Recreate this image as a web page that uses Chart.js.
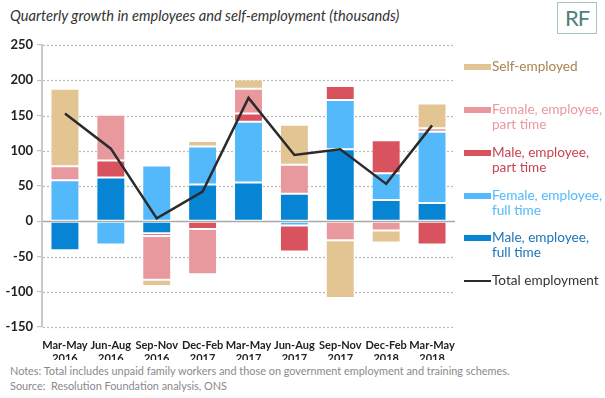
<!DOCTYPE html>
<html>
<head>
<meta charset="utf-8">
<script src="https://cdn.jsdelivr.net/npm/chart.js@4"></script>
<style>
  body { margin: 0; background: #fff; font-family: Lato, sans-serif; }
  #wrap { position: relative; width: 605px; height: 398px; overflow: hidden; }
  #box { position: absolute; left: 0; top: 0; width: 605px; height: 360px; }
  .title { position: absolute; left: 10px; top: 7px; font-size: 14.6px; font-style: italic; color: #333; }
  .logo { position: absolute; left: 557px; top: 2px; width: 38px; height: 30px; border: 1.5px solid #a9c4c1;
          color: #4f7f7b; font-size: 22px; line-height: 30px; text-align: center; letter-spacing: -1px; }
  .leg { position: absolute; left: 464px; font-size: 13.6px; line-height: 15px; }
  .leg i { position: absolute; left: 0; top: 5px; width: 27px; height: 6px; }
  .leg span { display: block; margin-left: 28px; }
  .notes { position: absolute; left: 10px; top: 364px; font-size: 10.9px; line-height: 14.5px; color: #8a8a8a; }
</style>
</head>
<body>
<div id="wrap">
  <div class="title">Quarterly growth in employees and self-employment (thousands)</div>
  <div class="logo">RF</div>
  <div id="box"><canvas id="chart"></canvas></div>
  <div id="legend"></div>
  <div class="notes">Notes: Total includes unpaid family workers and those on government employment and training schemes.<br>Source:&nbsp; Resolution Foundation analysis, ONS</div>
</div>
<script>
var labels = [['Mar-May', '2016'], ['Jun-Aug', '2016'], ['Sep-Nov', '2016'], ['Dec-Feb', '2017'], ['Mar-May', '2017'],
              ['Jun-Aug', '2017'], ['Sep-Nov', '2017'], ['Dec-Feb', '2018'], ['Mar-May', '2018']];

var maleFullTime   = [-41, 62, -17, 52, 55, 39, 102, 30, 26];
var femaleFullTime = [58, -33, 79, 54, 86, -6, 70, 38, 101];
var malePartTime   = [-1, 24, -4, -11, 12, -37, 20, 47, -33];
var femalePartTime = [20, 65, -62, -64, 35, 41, -27, -13, 5];
var selfEmployed   = [110, 0, -9, 8, 13, 57, -82, -17, 35];
var totalEmployment = [153, 103, 4, 42, 175, 94, 102, 53, 136];

var yTicks = [250, 200, 150, 100, 50, 0, -50, -100, -150];

function bar(label, data, color) {
    return {
        type: 'bar',
        label: label,
        data: data,
        backgroundColor: color,
        borderColor: 'rgba(255,255,255,0.45)',
        borderWidth: 1,
        borderSkipped: false,
        stack: 'a',
        order: 2
    };
}

// dotted gridlines, solid at zero, drawn under the bars
var gridLines = {
    id: 'gridLines',
    beforeDatasetsDraw: function (c) {
        var g = c.ctx, a = c.chartArea, ys = c.scales.y;
        g.save();
        ys.ticks.forEach(function (t) {
            var y = Math.round(ys.getPixelForValue(t.value)) + 0.5;
            g.beginPath();
            if (t.value === 0) {
                g.setLineDash([]);
                g.strokeStyle = '#a8a8a8';
                g.lineWidth = 1.3;
            } else {
                g.setLineDash([2, 2]);
                g.strokeStyle = '#b8b8b8';
                g.lineWidth = 1.2;
            }
            g.moveTo(a.left + 1, y);
            g.lineTo(a.right, y);
            g.stroke();
        });
        g.restore();
    }
};

var ctx = document.getElementById('chart').getContext('2d');
var chart = new Chart(ctx, {
    type: 'bar',
    data: {
        labels: labels,
        datasets: [
            {
                type: 'line',
                label: 'Total employment',
                data: totalEmployment,
                borderColor: '#2b2b2b',
                borderWidth: 2.5,
                pointRadius: 0,
                tension: 0,
                fill: false,
                order: 1
            },
            bar('Male, employee, full time', maleFullTime, '#0784d3'),
            bar('Female, employee, full time', femaleFullTime, '#53b9fa'),
            bar('Male, employee, part time', malePartTime, '#d9535f'),
            bar('Female, employee, part time', femalePartTime, '#e8999e'),
            bar('Self-employed', selfEmployed, '#e3c493')
        ]
    },
    plugins: [gridLines],
    options: {
        responsive: true,
        maintainAspectRatio: false,
        animation: false,
        layout: { padding: { top: 45, right: 150, bottom: 0, left: 0 } },
        plugins: { legend: { display: false }, tooltip: { enabled: false } },
        datasets: { bar: { barPercentage: 0.63, categoryPercentage: 1 } },
        scales: {
            x: {
                stacked: true,
                grid: { display: false },
                border: { display: false },
                ticks: {
                    color: '#222',
                    font: { family: 'Lato', size: 11, weight: 'bold' },
                    padding: 4,
                    maxRotation: 0,
                    autoSkip: false
                },
                afterFit: function (s) { s.height = 33; }
            },
            y: {
                stacked: true,
                min: -150,
                max: 250,
                afterBuildTicks: function (s) {
                    s.ticks = yTicks.map(function (v) { return { value: v }; });
                },
                grid: {
                    drawOnChartArea: false,
                    color: '#c4c4c4',
                    lineWidth: 1.2,
                    tickLength: 5
                },
                border: {
                    display: true,
                    color: '#c8c8c8',
                    width: 2
                },
                ticks: {
                    color: '#222',
                    font: { family: 'Lato', size: 13, weight: 'bold' },
                    padding: 4
                },
                afterFit: function (s) { s.width = 42; }
            }
        }
    }
});

var legendItems = [
    { text: 'Self-employed', swatch: '#e3c493', color: '#a9844f', top: 59 },
    { text: 'Female, employee,<br>part time', swatch: '#e8999e', color: '#e8999e', top: 102 },
    { text: 'Male, employee,<br>part time', swatch: '#d9535f', color: '#c9444f', top: 145 },
    { text: 'Female, employee,<br>full time', swatch: '#53b9fa', color: '#53b9fa', top: 188 },
    { text: 'Male, employee,<br>full time', swatch: '#0784d3', color: '#1c74b8', top: 230 },
    { text: 'Total employment', swatch: '#2b2b2b', color: '#333', top: 273, line: true }
];
var legendHtml = '';
legendItems.forEach(function (it) {
    var sw = it.line ? 'height:2px;top:7px;' : '';
    legendHtml += '<div class="leg" style="top:' + it.top + 'px;color:' + it.color + '">' +
        '<i style="background:' + it.swatch + ';' + sw + '"></i><span>' + it.text + '</span></div>';
});
document.getElementById('legend').innerHTML = legendHtml;
</script>
</body>
</html>
